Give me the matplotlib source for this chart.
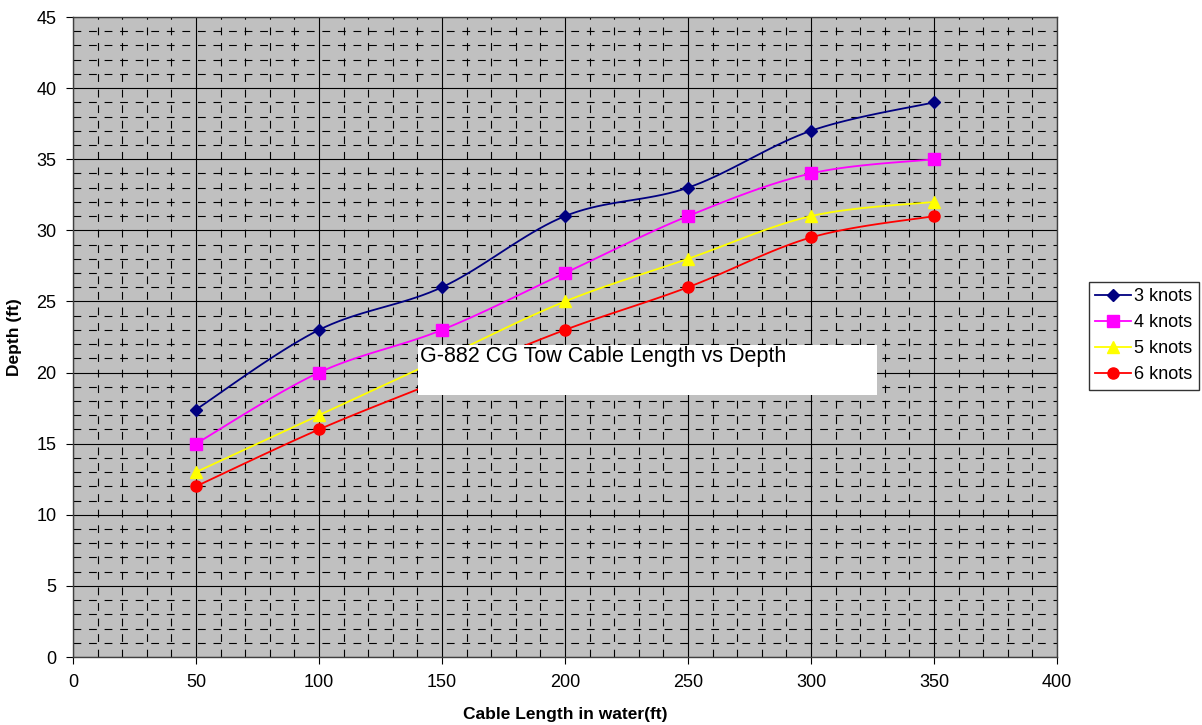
import numpy as np
import matplotlib.pyplot as plt
from matplotlib.patches import Rectangle

plt.rcParams['font.family'] = ['Liberation Sans', 'DejaVu Sans']

# cable length in water (ft)
cable = [50, 100, 150, 200, 250, 300, 350]
# depth (ft) for each tow speed
knots3 = [17.4, 23, 26, 31, 33, 37, 39]
knots4 = [15, 20, 23, 27, 31, 34, 35]
knots5 = [13, 17, 21, 25, 28, 31, 32]
knots6 = [12, 16, 19.5, 23, 26, 29.5, 31]

series = [
    ("3 knots", knots3, "#000080", "D", 6.5),
    ("4 knots", knots4, "#FF00FF", "s", 8),
    ("5 knots", knots5, "#FFFF00", "^", 8),
    ("6 knots", knots6, "#FF0000", "o", 8),
]


def smooth(x, y, n=20):
    # Excel-like smoothed line (cardinal bezier through the points)
    x = np.asarray(x, float)
    y = np.asarray(y, float)
    px = np.concatenate([[x[0]], x, [x[-1]]])
    py = np.concatenate([[y[0]], y, [y[-1]]])
    xs, ys = [], []
    t = np.linspace(0, 1, n)
    for i in range(1, len(x)):
        p0 = np.array([px[i], py[i]])
        p3 = np.array([px[i + 1], py[i + 1]])
        p1 = p0 + (np.array([px[i + 1], py[i + 1]]) - np.array([px[i - 1], py[i - 1]])) / 6
        p2 = p3 - (np.array([px[i + 2], py[i + 2]]) - np.array([px[i], py[i]])) / 6
        b = ((1 - t) ** 3)[:, None] * p0 + (3 * (1 - t) ** 2 * t)[:, None] * p1 \
            + (3 * (1 - t) * t ** 2)[:, None] * p2 + (t ** 3)[:, None] * p3
        xs.extend(b[:, 0])
        ys.extend(b[:, 1])
    return xs, ys


fig = plt.figure(figsize=(12.02, 7.25), dpi=100)
ax = fig.add_axes([73 / 1202, 1 - 657 / 725, (1057 - 73) / 1202, (657 - 17) / 725])
ax.set_facecolor("#C0C0C0")

for label, vals, color, marker, ms in series:
    sx, sy = smooth(cable, vals)
    ax.plot(sx, sy, "-", color=color, lw=1.3, zorder=3)
    ax.plot(cable, vals, linestyle="none", marker=marker, color=color, ms=ms, zorder=4)
    ax.plot([], [], "-", color=color, marker=marker, ms=ms, lw=1.3, label=label)

ax.set_xlim(0, 400)
ax.set_ylim(0, 45)
ax.set_xticks(np.arange(0, 401, 50))
ax.set_yticks(np.arange(0, 46, 5))
ax.set_xticks(np.arange(0, 401, 10), minor=True)
ax.set_yticks(np.arange(0, 46, 1), minor=True)
ax.grid(True, which="major", color="black", lw=0.8, zorder=1)
ax.grid(True, which="minor", color="black", lw=0.8, linestyle=(0, (7, 7)), zorder=1)
ax.set_axisbelow(True)
ax.tick_params(which="minor", length=0)
ax.tick_params(which="major", direction="out", length=5, labelsize=13, pad=7)
for s in ax.spines.values():
    s.set_color("#404040")
    s.set_linewidth(1)

ax.set_xlabel("Cable Length in water(ft)", fontsize=12.5, fontweight="bold", labelpad=12)
ax.set_ylabel("Depth (ft)", fontsize=12.5, fontweight="bold", labelpad=10)

# title box inside the plot
fig.patches.append(Rectangle((418 / 1202, 1 - 395 / 725), (877 - 418) / 1202, 50 / 725,
                             transform=fig.transFigure, facecolor="white",
                             edgecolor="none", zorder=5))
fig.text(420 / 1202, 1 - 346 / 725, "G-882 CG Tow Cable Length vs Depth",
         fontsize=15.5, va="top", ha="left", zorder=6)

leg = fig.legend(loc="upper left", bbox_to_anchor=(1089 / 1202, 1 - 282 / 725),
                 fontsize=13, frameon=True, fancybox=False, edgecolor="black",
                 borderaxespad=0, handlelength=2.0, handletextpad=0.15,
                 borderpad=0.35, labelspacing=0.5)
leg.get_frame().set_linewidth(1)

fig.savefig("out.png", dpi=100)
